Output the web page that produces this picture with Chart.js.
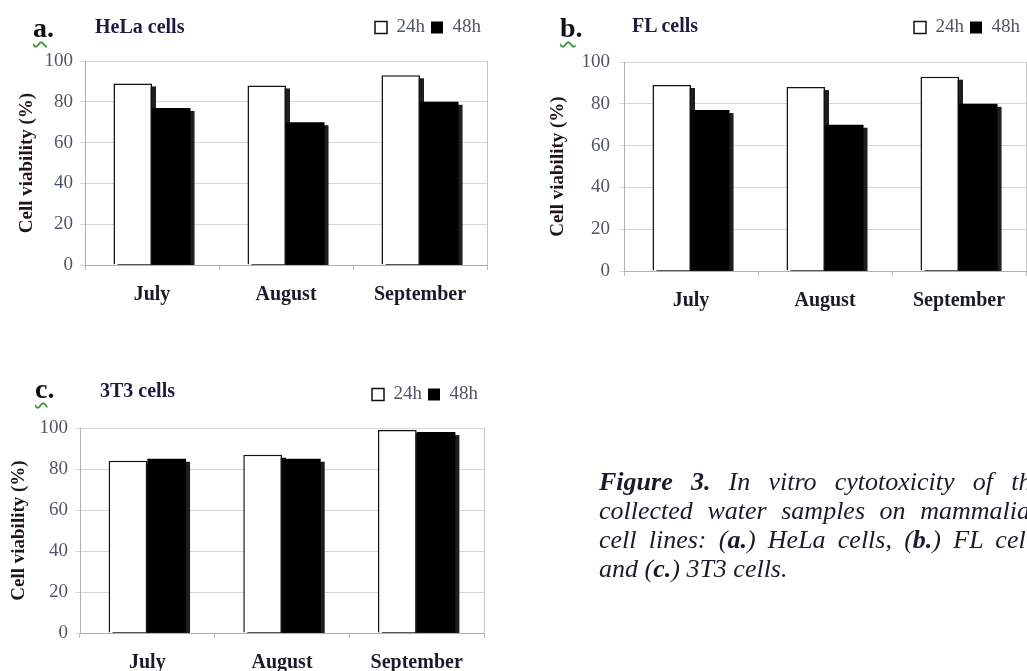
<!DOCTYPE html>
<html>
<head>
<meta charset="utf-8">
<script src="https://cdn.jsdelivr.net/npm/chart.js@4.4.1/dist/chart.umd.min.js"></script>
<style>
html, body { margin: 0; padding: 0; width: 1027px; height: 671px; overflow: hidden; background: #fff; }
#page { position: relative; width: 1027px; height: 671px; overflow: hidden; filter: blur(0.7px); }
canvas { position: absolute; }
.tag { position: absolute; font: bold 28px 'Liberation Serif', serif; color: #111; line-height: 1; }
.tag span { text-decoration: underline wavy #3c9a3c; text-decoration-thickness: 1.5px; text-underline-offset: 4px; }
.name { position: absolute; font: bold 20px 'Liberation Serif', serif; color: #1c1c40; line-height: 1; }
#caption { position: absolute; left: 599px; top: 467px; width: 444px; font: italic 26px/29px 'Liberation Serif', serif; color: #1a1a2a; }
#caption div { text-align: justify; text-align-last: justify; white-space: nowrap; }
#caption div.last { text-align-last: left; }
</style>
</head>
<body>
<div id="page">
  <canvas id="chartA" width="500" height="330" style="left:0;top:0"></canvas>
  <canvas id="chartB" width="507" height="331" style="left:520px;top:0"></canvas>
  <canvas id="chartC" width="500" height="342" style="left:0;top:360px"></canvas>

  <div class="tag" style="left:33px;top:14px"><span>a</span>.</div>
  <div class="name" style="left:95px;top:16px">HeLa cells</div>
  <div class="tag" style="left:560px;top:14px"><span>b</span>.</div>
  <div class="name" style="left:632px;top:15px">FL cells</div>
  <div class="tag" style="left:35px;top:375px"><span>c</span>.</div>
  <div class="name" style="left:100px;top:380px">3T3 cells</div>

  <div id="caption">
    <div><b>Figure 3.</b> In vitro cytotoxicity of the</div>
    <div>collected water samples on mammalian</div>
    <div>cell lines: (<b>a.</b>) HeLa cells, (<b>b.</b>) FL cells</div>
    <div class="last">and (<b>c.</b>) 3T3 cells.</div>
  </div>
</div>

<script>
// données
const months = ['July', 'August', 'September'];
const seriesNames = ['24h', '48h'];
const yTicks = [0, 20, 40, 60, 80, 100];

const helaH24 = [89, 88, 93];
const helaH48 = [77, 70, 80];

const flH24 = [89, 88, 93];
const flH48 = [77, 70, 80];

const t3H24 = [84, 87, 99];
const t3H48 = [85, 85, 98];

const serif = "'Liberation Serif', 'Times New Roman', serif";

// bord droit de la zone du graphique
const frame = {
    id: 'frame',
    beforeDatasetsDraw(chart) {
        const ctx = chart.ctx;
        const a = chart.chartArea;
        ctx.save();
        ctx.strokeStyle = '#c4c4c4';
        ctx.lineWidth = 1;
        ctx.beginPath();
        ctx.moveTo(Math.round(a.right) + 0.5, a.top);
        ctx.lineTo(Math.round(a.right) + 0.5, a.bottom);
        ctx.stroke();
        ctx.restore();
    }
};

// ombre portée des barres (décalée vers la droite et le bas)
const barShadow = {
    id: 'barShadow',
    beforeDatasetsDraw(chart) {
        const ctx = chart.ctx;
        const a = chart.chartArea;
        ctx.save();
        ctx.beginPath();
        ctx.rect(a.left, a.top, a.right - a.left + 6, a.bottom - a.top);
        ctx.clip();
        ctx.fillStyle = '#1e1e1e';
        chart.data.datasets.forEach((ds, i) => {
            chart.getDatasetMeta(i).data.forEach(bar => {
                const p = bar.getProps(['x', 'y', 'base', 'width'], true);
                ctx.fillRect(p.x - p.width / 2 + 4, p.y + 3, p.width, p.base - p.y);
            });
        });
        ctx.restore();
    }
};

function drawPanel(id, h24, h48, opts) {
    // espace supplémentaire sous la légende
    const legendGap = {
        id: 'legendGap',
        beforeLayout(chart) {
            if (chart.legend && !chart.legend._gapDone) {
                const fit = chart.legend.fit;
                chart.legend.fit = function () {
                    fit.call(this);
                    this.height += opts.legendGap;
                };
                chart.legend._gapDone = true;
            }
        }
    };

    const ctx = document.getElementById(id).getContext('2d');
    return new Chart(ctx, {
        type: 'bar',
        data: {
            labels: months,
            datasets: [
                {
                    label: seriesNames[0],
                    data: h24,
                    backgroundColor: '#ffffff',
                    borderColor: '#111111',
                    borderWidth: 1.5
                },
                {
                    label: seriesNames[1],
                    data: h48,
                    backgroundColor: '#000000',
                    borderColor: '#000000',
                    borderWidth: 0
                }
            ]
        },
        options: {
            responsive: false,
            animation: false,
            devicePixelRatio: 1,
            layout: { padding: opts.padding },
            datasets: {
                bar: { categoryPercentage: 0.575, barPercentage: 1.0 }
            },
            plugins: {
                legend: {
                    position: 'top',
                    align: 'end',
                    labels: {
                        boxWidth: 12,
                        boxHeight: 12,
                        padding: 6,
                        color: '#4e5668',
                        font: { family: serif, size: 19 }
                    }
                },
                tooltip: { enabled: false }
            },
            scales: {
                x: {
                    grid: {
                        drawOnChartArea: false,
                        drawTicks: true,
                        tickLength: 5,
                        color: '#bcbcbc'
                    },
                    border: { color: '#b0b0b0' },
                    ticks: {
                        maxRotation: 0,
                        padding: 13,
                        color: '#1a1a2a',
                        font: { family: serif, size: 20, weight: 'bold' }
                    }
                },
                y: {
                    min: 0,
                    max: 100,
                    afterBuildTicks: s => { s.ticks = yTicks.map(v => ({ value: v })); },
                    afterFit: s => { s.width = opts.axisWidth; },
                    grid: { color: '#d6d6d6', tickLength: 5 },
                    border: { color: '#b0b0b0' },
                    ticks: {
                        padding: opts.tickPad,
                        color: '#4e5668',
                        font: { family: serif, size: 19 }
                    },
                    title: {
                        display: true,
                        text: 'Cell viability (%)',
                        color: '#201515',
                        padding: { top: opts.titlePad, bottom: 0 },
                        font: { family: serif, size: 19, weight: 'bold' }
                    }
                }
            }
        },
        plugins: [frame, barShadow, legendGap]
    });
}

drawPanel('chartA', helaH24, helaH48, {
    padding: { left: 0, right: 13, top: 12, bottom: 10 },
    axisWidth: 85, tickPad: 7, titlePad: 16, legendGap: 14
});
drawPanel('chartB', flH24, flH48, {
    padding: { left: 12, right: 1, top: 12, bottom: 5 },
    axisWidth: 92, tickPad: 9, titlePad: 15, legendGap: 15
});
drawPanel('chartC', t3H24, t3H48, {
    padding: { left: 0, right: 16, top: 19, bottom: 14 },
    axisWidth: 80, tickPad: 7, titlePad: 8, legendGap: 14
});
</script>
</body>
</html>
